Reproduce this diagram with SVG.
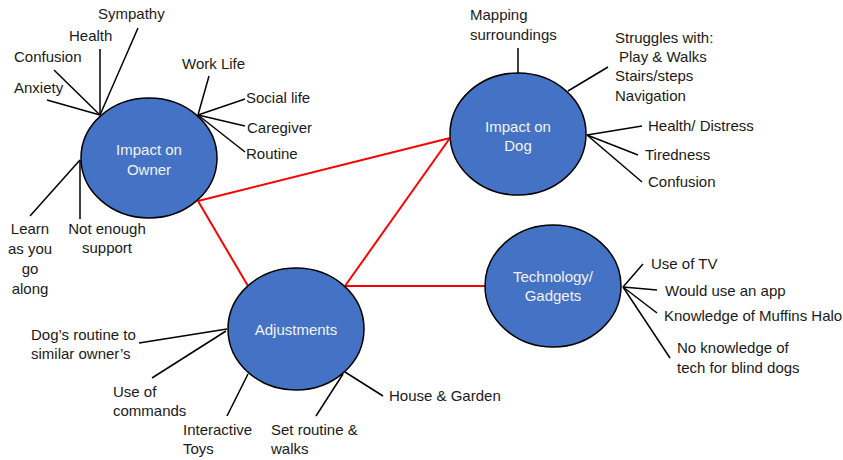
<svg xmlns="http://www.w3.org/2000/svg" width="843" height="460" viewBox="0 0 843 460">
<style>
.node ellipse{fill:#4472C4;stroke:#000;stroke-width:1.5}
.nt{font-family:"Liberation Sans",Arial,sans-serif;font-size:15px;fill:#F2F2F2;text-anchor:middle}
.lb{font-family:"Liberation Sans",Arial,sans-serif;font-size:15px;fill:#1a1a1a}
.mid{text-anchor:middle}
.spoke{stroke:#000;stroke-width:1.5;fill:none}
.link{stroke:#FF0000;stroke-width:2;fill:none}
</style>
<rect width="843" height="460" fill="#fff"/>
<g id="connectors">
<line class="link" x1="198" y1="201" x2="450" y2="138"/>
<line class="link" x1="198" y1="201" x2="248" y2="286"/>
<line class="link" x1="345" y1="286" x2="450" y2="138"/>
<line class="link" x1="345" y1="286" x2="485" y2="286"/>
<!-- owner spokes -->
<line class="spoke" x1="100" y1="115" x2="138" y2="28"/>
<line class="spoke" x1="100" y1="115" x2="100" y2="49"/>
<line class="spoke" x1="100" y1="115" x2="54" y2="70"/>
<line class="spoke" x1="100" y1="115" x2="47" y2="100"/>
<line class="spoke" x1="198" y1="115" x2="209" y2="76"/>
<line class="spoke" x1="198" y1="115" x2="245" y2="99"/>
<line class="spoke" x1="198" y1="115" x2="245" y2="126"/>
<line class="spoke" x1="198" y1="115" x2="245" y2="152"/>
<line class="spoke" x1="80" y1="160" x2="30" y2="216"/>
<line class="spoke" x1="80" y1="160" x2="80" y2="219"/>
<!-- dog spokes -->
<line class="spoke" x1="518" y1="48" x2="518" y2="74"/>
<line class="spoke" x1="568" y1="91" x2="608" y2="67"/>
<line class="spoke" x1="587" y1="135" x2="642" y2="126"/>
<line class="spoke" x1="587" y1="135" x2="638" y2="155"/>
<line class="spoke" x1="587" y1="135" x2="642" y2="182"/>
<!-- tech spokes -->
<line class="spoke" x1="623" y1="287" x2="643" y2="264"/>
<line class="spoke" x1="623" y1="287" x2="657" y2="290"/>
<line class="spoke" x1="623" y1="287" x2="657" y2="313"/>
<line class="spoke" x1="623" y1="287" x2="670" y2="358"/>
<!-- adjustments spokes -->
<line class="spoke" x1="227" y1="329" x2="139" y2="343"/>
<line class="spoke" x1="226" y1="331" x2="152" y2="378"/>
<line class="spoke" x1="248" y1="374" x2="227" y2="416"/>
<line class="spoke" x1="343" y1="374" x2="316" y2="416"/>
<line class="spoke" x1="345" y1="372" x2="383" y2="396"/>
</g>
<g id="owner" class="node">
<ellipse cx="149" cy="158" rx="68" ry="60"/>
<text class="nt" x="149" y="155">Impact on</text>
<text class="nt" x="149" y="175">Owner</text>
</g>
<g id="dog" class="node">
<ellipse cx="518" cy="134" rx="68" ry="61"/>
<text class="nt" x="518" y="132">Impact on</text>
<text class="nt" x="518" y="151">Dog</text>
</g>
<g id="tech" class="node">
<ellipse cx="553" cy="286" rx="68" ry="61"/>
<text class="nt" x="553" y="282">Technology/</text>
<text class="nt" x="553" y="301">Gadgets</text>
</g>
<g id="adjustments" class="node">
<ellipse cx="296" cy="329" rx="68" ry="61"/>
<text class="nt" x="296" y="335">Adjustments</text>
</g>
<g id="labels">
<text class="lb" x="98" y="19">Sympathy</text>
<text class="lb" x="69" y="41">Health</text>
<text class="lb" x="14" y="62">Confusion</text>
<text class="lb" x="14" y="93">Anxiety</text>
<text class="lb" x="182" y="69">Work Life</text>
<text class="lb" x="246" y="103">Social life</text>
<text class="lb" x="247" y="133">Caregiver</text>
<text class="lb" x="246" y="159">Routine</text>
<text class="lb mid" x="30" y="234">Learn</text>
<text class="lb mid" x="30" y="254">as you</text>
<text class="lb mid" x="30" y="274">go</text>
<text class="lb mid" x="30" y="294">along</text>
<text class="lb mid" x="107" y="234">Not enough</text>
<text class="lb mid" x="107" y="253">support</text>
<text class="lb" x="470" y="20">Mapping</text>
<text class="lb" x="470" y="40">surroundings</text>
<text class="lb" x="615" y="43">Struggles with:</text>
<text class="lb" x="619" y="62">Play &amp; Walks</text>
<text class="lb" x="615" y="81">Stairs/steps</text>
<text class="lb" x="615" y="101">Navigation</text>
<text class="lb" x="648" y="131">Health/ Distress</text>
<text class="lb" x="645" y="160">Tiredness</text>
<text class="lb" x="648" y="187">Confusion</text>
<text class="lb" x="651" y="269">Use of TV</text>
<text class="lb" x="665" y="296">Would use an app</text>
<text class="lb" x="664" y="321">Knowledge of Muffins Halo</text>
<text class="lb" x="677" y="353">No knowledge of</text>
<text class="lb" x="677" y="373">tech for blind dogs</text>
<text class="lb" x="31" y="340">Dog’s routine to</text>
<text class="lb" x="31" y="359">similar owner’s</text>
<text class="lb" x="113" y="397">Use of</text>
<text class="lb" x="113" y="416">commands</text>
<text class="lb" x="183" y="435">Interactive</text>
<text class="lb" x="183" y="454">Toys</text>
<text class="lb" x="271" y="435">Set routine &amp;</text>
<text class="lb" x="271" y="454">walks</text>
<text class="lb" x="389" y="401">House &amp; Garden</text>
</g>
</svg>
